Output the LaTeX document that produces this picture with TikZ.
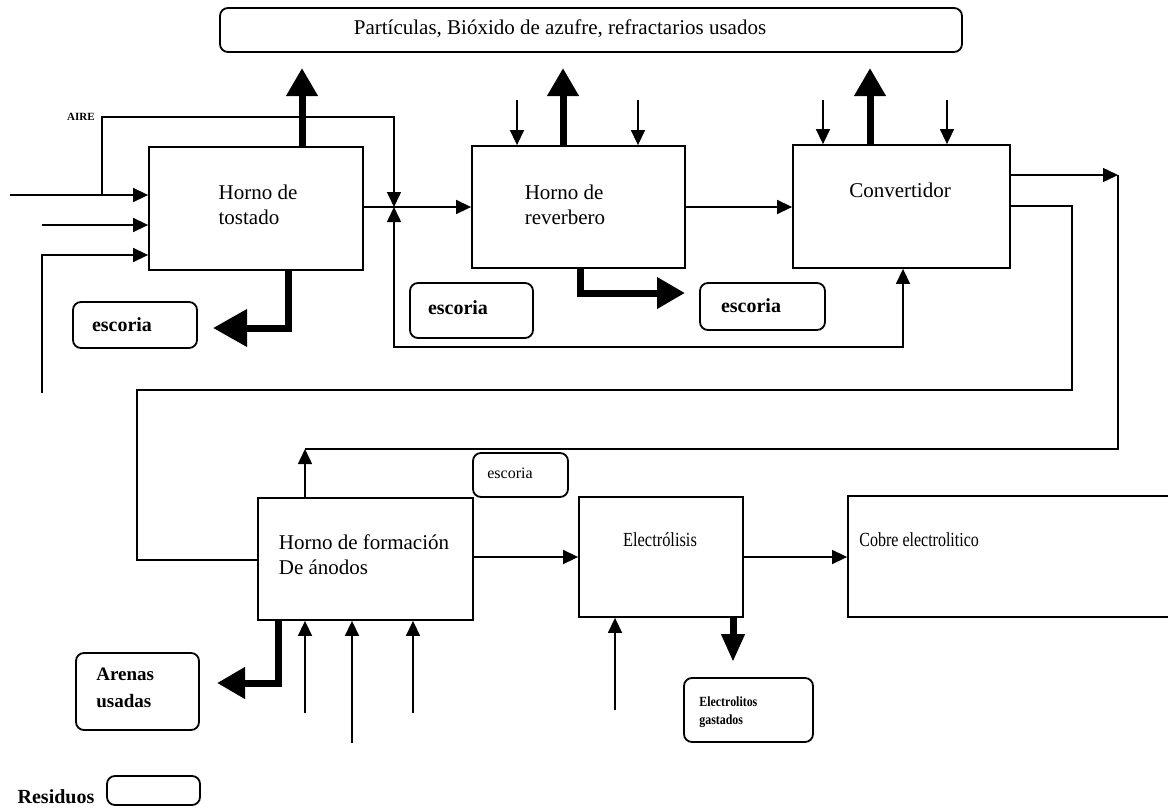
\documentclass[tikz,border=0pt]{standalone}
\usepackage{fontspec}
\setmainfont{Liberation Serif}
\usetikzlibrary{arrows.meta,fit,calc}
\begin{document}
\begin{tikzpicture}[x=0.5pt,y=-0.5pt,
  box/.style={draw,line width=0.9pt,inner sep=0pt,fit={#1}},
  rbox/.style={draw,line width=0.9pt,inner sep=0pt,rounded corners=4pt,fit={#1}},
  lbl/.style={font=\fontsize{10.5}{12.5}\selectfont,align=left,inner sep=0pt},
  slbl/.style={font=\bfseries\fontsize{10}{12}\selectfont,align=left,inner sep=0pt},
  thin/.style={line width=0.75pt,-{Triangle[length=7.5pt,width=7pt]}},
  thinboth/.style={line width=0.75pt,{Triangle[length=7.5pt,width=7pt]}-{Triangle[length=7.5pt,width=7pt]}},
  plain/.style={line width=0.75pt},
  thk/.style={line width=3.5pt,-{Triangle[length=14pt,width=15pt]}},
  thkmid/.style={line width=3.5pt,-{Triangle[length=14pt,width=11pt]}},
  thkbig/.style={line width=3.5pt,-{Triangle[length=17pt,width=18pt]}},
]
\useasboundingbox (0,0) rectangle (1168,809);

% ---------- boxes ----------
\node[rbox={(220,8)(962,52)}] (emis) {};
\node[box={(149,147)(363,270)}] (tost) {};
\node[box={(472,146)(685,268)}] (reverb) {};
\node[box={(793,145)(1010,268)}] (conv) {};
\node[box={(258,498)(473,620)}] (anod) {};
\node[box={(579,497)(743,617)}] (elec) {};
\node[box={(848,496)(1185,617)}] (cobre) {};
\node[rbox={(73,302)(197,348)}] (esc1) {};
\node[rbox={(410,283)(533,338)}] (esc2) {};
\node[rbox={(700,283)(825,330)}] (esc3) {};
\node[rbox={(473,453)(568,497)}] (esc4) {};
\node[rbox={(76,653)(199,730)}] (arenas) {};
\node[rbox={(684,678)(813,742)}] (elecg) {};
\node[rbox={(107,776)(200,805)}] (resid) {};

% ---------- texts ----------
\node[lbl] (temis) at (560,29) {Partículas, Bióxido de azufre, refractarios usados};
\node[lbl] (ttost) at (258,205) {Horno de\\tostado};
\node[lbl] (trev) at (565,205) {Horno de\\reverbero};
\node[lbl] (tconv) at (900,190) {Convertidor};
\node[lbl] (tanod) at (364,555) {Horno de formación\\De ánodos};
\node[lbl,font=\fontsize{10}{12}\selectfont] (telec) at (660,540) {\scalebox{0.82}[1]{Electrólisis}};
\node[lbl,font=\fontsize{10}{12}\selectfont,anchor=west] (tcobre) at (859,540) {\scalebox{0.8}[1]{Cobre electrolitico}};
\node[slbl] (tesc1) at (122,325) {escoria};
\node[slbl] (tesc2) at (458,308) {escoria};
\node[slbl] (tesc3) at (751,306) {escoria};
\node[lbl,font=\fontsize{8}{10}\selectfont] (tesc4) at (510,473) {escoria};
\node[slbl,font=\bfseries\fontsize{9.5}{13.5}\selectfont,anchor=north west] (tarenas) at (96,668) {Arenas\\usadas};
\node[slbl,font=\bfseries\fontsize{7}{9}\selectfont,anchor=north west] (telecg) at (699,696) {\scalebox{0.85}[1]{Electrolitos}\\\scalebox{0.85}[1]{gastados}};
\node[slbl] (tresid) at (56,797) {Residuos};
\node[font=\bfseries\fontsize{5.5}{6}\selectfont,inner sep=0pt] (taire) at (81,117) {AIRE};

% ---------- coordinates ----------
\coordinate (in1) at (10,195);
\coordinate (aj) at (102,195);
\coordinate (atop) at (102,117);
\coordinate (j) at (394,207);
\coordinate (in2) at (42,225);
\coordinate (in3) at (42,393);
\coordinate (in3b) at (42,255);
\coordinate (loopc) at (903,347);
\coordinate (r1) at (517,100);
\coordinate (r2) at (638,100);
\coordinate (c1) at (823,100);
\coordinate (c2) at (947,100);
\coordinate (co1) at (1118,175);
\coordinate (co2) at (305,449);
\coordinate (cr1) at (1072,206);
\coordinate (cr2) at (137,390);
\coordinate (cr3) at (137,560);
\coordinate (a1) at (305,713);
\coordinate (a2) at (352,743);
\coordinate (a3) at (413,713);
\coordinate (e1) at (615,710);
\coordinate (tu) at (302,68);
\coordinate (ru) at (563,68);
\coordinate (cu) at (870,68);
\coordinate (ts) at (288,328);
\coordinate (tstip) at (213,328);
\coordinate (rs) at (580,293);
\coordinate (rstip) at (685,293);
\coordinate (as) at (278,683);
\coordinate (astip) at (217,683);
\coordinate (ed) at (733,662);

% ---------- thin connectors ----------
\draw[thin] (in1) -- (in1 -| tost.west);
\draw[thin] (aj) -- (atop) -| (j);
\draw[thin] (in2) -- (in2 -| tost.west);
\draw[thin] (in3) |- (in3b -| tost.west);
\draw[thin] (tost.east |- j) -- (reverb.west |- j);
\draw[thinboth] (j) |- (loopc) -- (loopc |- conv.south);
\draw[thin] (reverb.east |- j) -- (conv.west |- j);
\draw[thin] (r1) -- (r1 |- reverb.north);
\draw[thin] (r2) -- (r2 |- reverb.north);
\draw[thin] (c1) -- (c1 |- conv.north);
\draw[thin] (c2) -- (c2 |- conv.north);
\draw[thin] (conv.east |- co1) -- (co1);
\draw[plain] (co1) |- (co2);
\draw[thin] (co2 |- anod.north) -- (co2);
\draw[plain] (conv.east |- cr1) -- (cr1) |- (cr2) -- (cr3) -- (cr3 -| anod.west);
\draw[thin] (anod.east |- 0,557) -- (elec.west |- 0,557);
\draw[thin] (elec.east |- 0,557) -- (cobre.west |- 0,557);
\draw[thin] (a1) -- (a1 |- anod.south);
\draw[thin] (a2) -- (a2 |- anod.south);
\draw[thin] (a3) -- (a3 |- anod.south);
\draw[thin] (e1) -- (e1 |- elec.south);

% ---------- thick connectors ----------
\draw[thk] (tu |- tost.north) -- (tu);
\draw[thk] (ru |- reverb.north) -- (ru);
\draw[thk] (cu |- conv.north) -- (cu);
\draw[thkbig] (ts |- tost.south) -- (ts) -- (tstip);
\draw[thk] (rs |- reverb.south) -- (rs) -- (rstip);
\draw[thk] (as |- anod.south) -- (as) -- (astip);
\draw[thkmid] (ed |- elec.south) -- (ed);
\end{tikzpicture}
\end{document}
